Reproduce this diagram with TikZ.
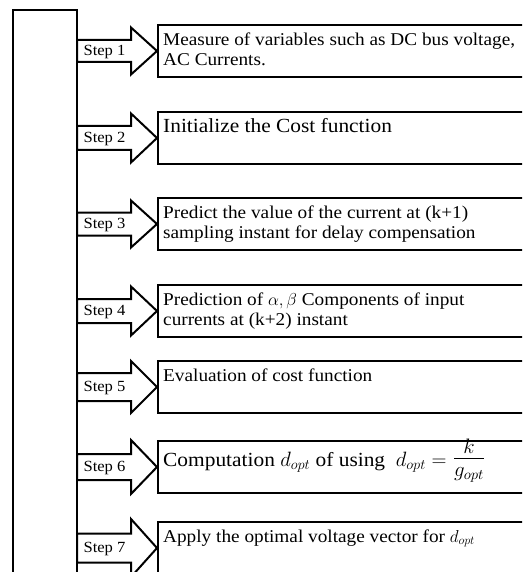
\documentclass[tikz,border=0pt]{standalone}
\usepackage{fontspec}
\usepackage{graphicx}
\setmainfont[FakeStretch=1.07]{Liberation Serif}
\DeclareMathSizes{20}{20}{14.5}{10}
\DeclareMathSizes{18}{18}{13}{9}
\usetikzlibrary{calc}
\begin{document}
\begin{tikzpicture}[x=1pt,y=-1pt,
  trunk/.style={line width=2.2pt, line join=miter},
  box/.style={draw, line width=2pt, rectangle, minimum width=420pt, minimum height=52pt, anchor=west, inner sep=0pt},
  stepar/.style={draw, line width=2pt, line join=miter, fill=white},
  steplbl/.style={font=\fontsize{15.5}{17}\selectfont, inner sep=0pt},
  boxtxt/.style={font=\fontsize{18}{20}\selectfont, align=left, anchor=base west, inner sep=0pt},
  bigtxt/.style={boxtxt, font=\fontsize{20}{22}\selectfont}]
\clip (0,0) rectangle (522,572);
\fill[white] (0,0) rectangle (522,572);
\draw[trunk] (13,600) -- (13,10) -- (77,10) -- (77,600);
\foreach \i/\y/\s/\h in {1/51/11/23.5, 2/138/12/24.5, 3/224/11.5/23.5, 4/311/12/24.5, 5/387/14/26, 6/467/13/27, 7/548/14.5/29}{
  \coordinate (t\i) at (77,\y);
  \node[box] (b\i) at (157,\y) {};
  \draw[stepar] (t\i) ++(0,-\s) -- ++(54,0) -- ($(b\i.west)+(-26,-\h)$) -- (b\i.west)
     -- ($(b\i.west)+(-26,\h)$) -- ++(0,{\s-\h}) -- ($(t\i)+(0,\s)$) -- cycle;
  \node[steplbl] (l\i) at ($(t\i)+(27.5,1)$) {Step \i};
}
\node[boxtxt] (x1) at ($(b1.north west)+(6,41.5)$) {Measure of variables such as DC bus voltage,\\AC Currents.};
\node[bigtxt] (x2) at ($(b2.north west)+(6,22)$) {Initialize the Cost function};
\node[boxtxt] (x3) at ($(b3.north west)+(6,41)$) {\makebox[305pt][s]{Predict the value of the current at (k+1)}\\sampling instant for delay compensation};
\node[boxtxt] (x4) at ($(b4.north west)+(6,41)$) {Prediction of $\alpha,\beta$ Components of input\\currents at (k+2) instant};
\node[boxtxt] (x5) at ($(b5.north west)+(6,21)$) {Evaluation of cost function};
\node[bigtxt] (x6) at ($(b6.north west)+(6,26)$) {Computation $d_{opt}$ of using\ \ $d_{opt}=\vcenter{\hbox{\scalebox{1.45}{$\frac{k}{g_{opt}}$}}}$};
\node[boxtxt] (x7) at ($(b7.north west)+(6,21)$) {Apply the optimal voltage vector for $d_{opt}$};
\end{tikzpicture}
\end{document}
